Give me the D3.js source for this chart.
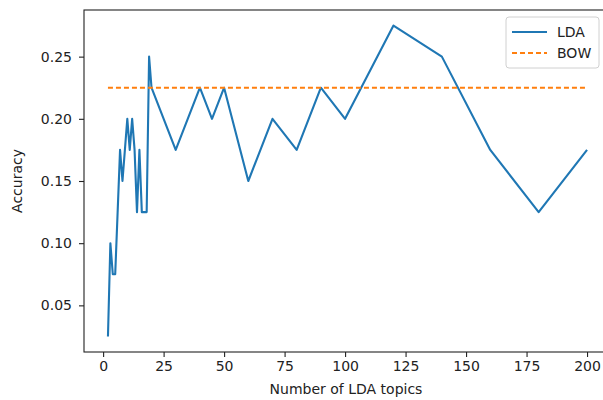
<!DOCTYPE html>
<html>
<head>
<meta charset="utf-8">
<script src="https://cdn.jsdelivr.net/npm/d3@7"></script>
<style>
  body { margin: 0; background: #fff; }
  svg { font-family: "DejaVu Sans", sans-serif; }
</style>
</head>
<body>
<svg id="canvas" width="603" height="400"></svg>
<script>
// number of LDA topics tried
let topics = [2, 3, 4, 5, 6, 7, 8, 9, 10, 11, 12, 13, 14, 15, 16, 17, 18, 19, 20,
  30, 40, 45, 50, 60, 70, 80, 90, 100, 120, 140, 160, 180, 200];
let ldaAcc = [0.025, 0.10, 0.075, 0.075, 0.125, 0.175, 0.15, 0.175, 0.20, 0.175, 0.20, 0.175, 0.125, 0.175, 0.125, 0.125, 0.125, 0.25, 0.225,
  0.175, 0.225, 0.20, 0.225, 0.15, 0.20, 0.175, 0.225, 0.20, 0.275, 0.25, 0.175, 0.125, 0.175];
let bowAcc = 0.225;
let xTicks = [0, 25, 50, 75, 100, 125, 150, 175, 200];
let yTicks = [0.05, 0.10, 0.15, 0.20, 0.25];

let svg = d3.select("#canvas");
let pLeft = 84, pTop = 10, pBottom = 352, pRight = 611;

// matplotlib style 5% margins
let xPad = (d3.max(topics) - d3.min(topics)) * 0.05;
let yPad = (d3.max(ldaAcc) - d3.min(ldaAcc)) * 0.05;
let x = d3.scaleLinear().domain([d3.min(topics) - xPad, d3.max(topics) + xPad]).range([pLeft, pRight]);
let y = d3.scaleLinear().domain([d3.min(ldaAcc) - yPad, d3.max(ldaAcc) + yPad]).range([pBottom, pTop]);

svg.append("defs").append("clipPath").attr("id", "clip")
  .append("rect").attr("x", pLeft).attr("y", pTop).attr("width", pRight - pLeft).attr("height", pBottom - pTop);

let plot = svg.append("g").attr("clip-path", "url(#clip)");

let line = d3.line().x(d => x(d[0])).y(d => y(d[1]));

plot.append("path")
  .datum(topics.map((t, i) => [t, ldaAcc[i]]))
  .attr("d", line)
  .attr("fill", "none")
  .attr("stroke", "#1f77b4")
  .attr("stroke-width", 2.1)
  .attr("stroke-linejoin", "round");

plot.append("path")
  .datum(topics.map(t => [t, bowAcc]))
  .attr("d", line)
  .attr("fill", "none")
  .attr("stroke", "#ff7f0e")
  .attr("stroke-width", 2.1)
  .attr("stroke-dasharray", "5,3");

// axes
let xAxis = svg.append("g").attr("transform", "translate(0," + pBottom + ")")
  .call(d3.axisBottom(x).tickValues(xTicks).tickSize(5).tickPadding(4).tickSizeOuter(0));
let yAxis = svg.append("g").attr("transform", "translate(" + pLeft + ",0)")
  .call(d3.axisLeft(y).tickValues(yTicks).tickFormat(d3.format(".2f")).tickSize(5).tickPadding(7).tickSizeOuter(0));

[xAxis, yAxis].forEach(a => {
  a.select(".domain").remove();
  a.selectAll("line").attr("stroke", "#222").attr("stroke-width", 1.1);
  a.selectAll("text").attr("fill", "#222").style("font-size", "14px").style("font-family", "DejaVu Sans");
});

// frame
svg.append("rect")
  .attr("x", pLeft).attr("y", pTop)
  .attr("width", pRight - pLeft).attr("height", pBottom - pTop)
  .attr("fill", "none").attr("stroke", "#222").attr("stroke-width", 1.1);

svg.append("text")
  .attr("x", 346).attr("y", 394)
  .attr("text-anchor", "middle")
  .attr("fill", "#222").style("font-size", "14px")
  .text("Number of LDA topics");

svg.append("text")
  .attr("transform", "translate(22," + ((pTop + pBottom) / 2) + ") rotate(-90)")
  .attr("text-anchor", "middle")
  .attr("fill", "#222").style("font-size", "14px")
  .text("Accuracy");

// legend
let legend = svg.append("g");
legend.append("rect")
  .attr("x", 506).attr("y", 17).attr("width", 93).attr("height", 51).attr("rx", 3)
  .attr("fill", "#fff").attr("fill-opacity", 0.8)
  .attr("stroke", "#d0d0d0").attr("stroke-width", 1);
let items = [["LDA", "#1f77b4", null], ["BOW", "#ff7f0e", "5,3"]];
items.forEach((it, i) => {
  let yy = 32 + i * 21;
  legend.append("line")
    .attr("x1", 512).attr("x2", 547).attr("y1", yy).attr("y2", yy)
    .attr("stroke", it[1]).attr("stroke-width", 2.1)
    .attr("stroke-dasharray", it[2]);
  legend.append("text")
    .attr("x", 557).attr("y", yy + 5)
    .attr("fill", "#222").style("font-size", "14px")
    .text(it[0]);
});
</script>
</body>
</html>
